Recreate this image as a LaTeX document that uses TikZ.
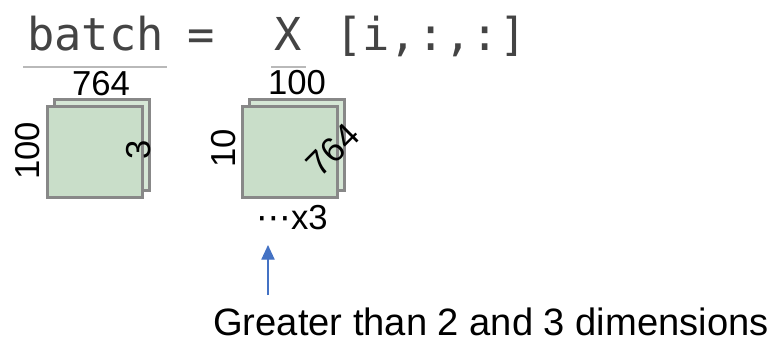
\documentclass[tikz,border=0pt]{standalone}
\usepackage{fontspec}
\setmainfont{Liberation Sans}
\setmonofont{DejaVu Sans Mono}
\newfontfamily\dejavu{DejaVu Sans}
\usetikzlibrary{positioning, arrows.meta, calc}
\definecolor{sheetfill}{HTML}{C9DEC9}
\definecolor{sheetback}{HTML}{D6E7D6}
\definecolor{sheetedge}{HTML}{888888}
\definecolor{codegray}{HTML}{444444}
\definecolor{pointblue}{HTML}{4472C4}

\begin{document}
\begin{tikzpicture}[x=0.75pt, y=-0.75pt, every node/.style={font=\fontsize{26}{28}\selectfont, inner sep=0pt}]
  \tikzset{
    code/.style={font=\ttfamily\fontsize{34}{36}\selectfont, text=codegray},
    uline/.style={draw=gray!55, line width=1.5pt},
    sheet/.style={draw=sheetedge, line width=2.2pt, fill=sheetfill, minimum width=71pt, minimum height=68pt},
    backsheet/.style={sheet, fill=sheetback},
    dimlabel/.style={font=\fontsize{26}{28}\selectfont},
    pointer/.style={draw=pointblue, line width=0.9pt, -{Triangle[length=11pt, width=10pt]}},
  }
  \useasboundingbox (0,0) rectangle (783,344);

  %% ===== Expression =====
  \node[code, anchor=base west] (batch) at (27,50) {batch};
  \node[code, anchor=base] (eq) at (201,50) {=};
  \node[code, anchor=base] (xvar) at (288,50) {X};
  \node[code, anchor=base west] (idx) at (335,50) {[i,:,:]};
  \draw[uline] ($(batch.base west)+(-4,17)$) -- ($(batch.base east)+(3,17)$);
  \draw[uline] ($(xvar.base west)+(-3,17)$) -- ($(xvar.base east)+(4,17)$);

  %% ===== Left stack: 100 x 764 x 3 =====
  \node[backsheet] (backL) at (102,145) {};
  \node[sheet] (frontL) at (95,152) {};
  \node[dimlabel] (wL) at (101,84) {764};
  \node[dimlabel, rotate=90] (hL) at (28,151) {100};
  \node[dimlabel, rotate=90] (dL) at (139,150) {3};

  %% ===== Right stack: 10 x 100 x 764, repeated =====
  \node[backsheet] (backR) at (297,145) {};
  \node[sheet] (frontR) at (290,152) {};
  \node[dimlabel] (wR) at (297,83) {100};
  \node[dimlabel, rotate=90] (hR) at (224,148) {10};
  \node[dimlabel, rotate=45] (dR) at (333,150) {764};
  \node[dimlabel] (rep) at (292,218) {{\dejavu ⋯}x3};

  %% ===== Note =====
  \coordinate (tail) at (268,295);
  \node[font=\fontsize{28.6}{30}\selectfont, anchor=base west] (note) at (213,335) {Greater than 2 and 3 dimensions};
  \draw[pointer] (tail) -- (268,245);
\end{tikzpicture}
\end{document}
